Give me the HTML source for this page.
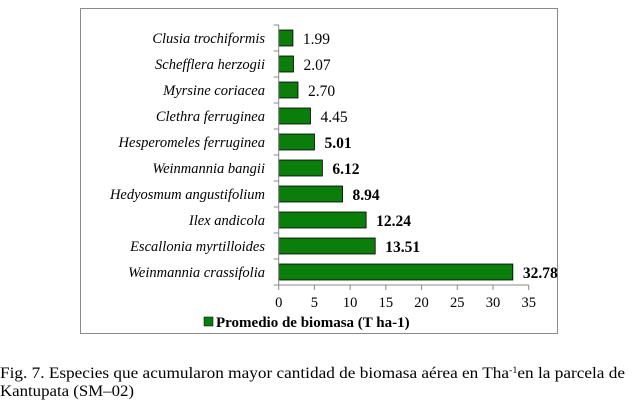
<!DOCTYPE html>
<html><head><meta charset="utf-8"><style>
body{margin:0;background:#fff;width:637px;height:405px;overflow:hidden;font-family:"Liberation Serif",serif}
</style></head><body>
<svg width="637" height="405">
<rect x="80.5" y="8.5" width="477" height="325" fill="#fff" stroke="#8a8a8a"/>
<g id="plot"></g>
<g>
<rect x="204" y="317" width="9" height="9" fill="#0a7d0a" stroke="#000" stroke-width="0.5"/>
<text x="216" y="327" font-size="15" font-weight="bold">Promedio de biomasa (T ha-1)</text>
</g>
<text x="0" y="378" font-size="15.5" textLength="625" lengthAdjust="spacingAndGlyphs">Fig. 7. Especies que acumularon mayor cantidad de biomasa aérea en Tha<tspan dy="-5" font-size="9">-1</tspan><tspan dy="5">en la parcela de</tspan></text>
<text x="0" y="396" font-size="15.5" textLength="134" lengthAdjust="spacingAndGlyphs">Kantupata (SM–02)</text>
</svg>
<script>
const categories=["Clusia trochiformis","Schefflera herzogii","Myrsine coriacea","Clethra ferruginea","Hesperomeles ferruginea","Weinmannia bangii","Hedyosmum angustifolium","Ilex andicola","Escallonia myrtilloides","Weinmannia crassifolia"];
const values=[1.99,2.07,2.70,4.45,5.01,6.12,8.94,12.24,13.51,32.78];
const valueLabels=["1.99","2.07","2.70","4.45","5.01","6.12","8.94","12.24","13.51","32.78"];
const boldLabel=[false,false,false,false,true,true,true,true,true,true];
const ticks=[0,5,10,15,20,25,30,35];
const NS="http://www.w3.org/2000/svg";
const g=document.getElementById('plot');
const x0=278.7,x1=528.7,plotTop=25,plotBot=285,xmax=35;
const band=(plotBot-plotTop)/categories.length;
const xs=v=>x0+(x1-x0)*v/xmax;
const yb=i=>plotTop+i*band;
function mk(t,a){const e=document.createElementNS(NS,t);for(const k in a)e.setAttribute(k,a[k]);g.appendChild(e);return e;}
categories.forEach((c,i)=>{
 const y=yb(i);
 const r=mk('rect',{x:xs(0),y:y+5,width:xs(values[i])-xs(0),height:16,fill:'#0a7d0a',stroke:'#000','stroke-width':0.8});
 
 
 const l=mk('text',{x:265,y:y+18,'font-size':14.5,'font-style':'italic','text-anchor':'end'});
 l.textContent=c;
 
 
 const v=mk('text',{x:xs(values[i])+10,y:y+19,'font-size':15.5,'font-weight':boldLabel[i]?'bold':'normal'});
 v.textContent=valueLabels[i];
 
 
});
for(let i=0;i<=categories.length;i++){const t=mk('line',{x1:x0-5,x2:x0,y1:yb(i),y2:yb(i),stroke:'#888'});}
const ya=mk('line',{x1:x0,x2:x0,y1:plotTop,y2:plotBot,stroke:'#888'});


const xa=mk('line',{x1:x0,x2:x1,y1:plotBot,y2:plotBot,stroke:'#888'});


ticks.forEach(t=>{
 const tk=mk('line',{x1:xs(t),x2:xs(t),y1:plotBot,y2:plotBot+5,stroke:'#888'});
 
 
 const tl=mk('text',{x:xs(t),y:plotBot+22,'font-size':14.5,'text-anchor':'middle'});
 tl.textContent=t;
 
 
});
</script>
</body></html>
